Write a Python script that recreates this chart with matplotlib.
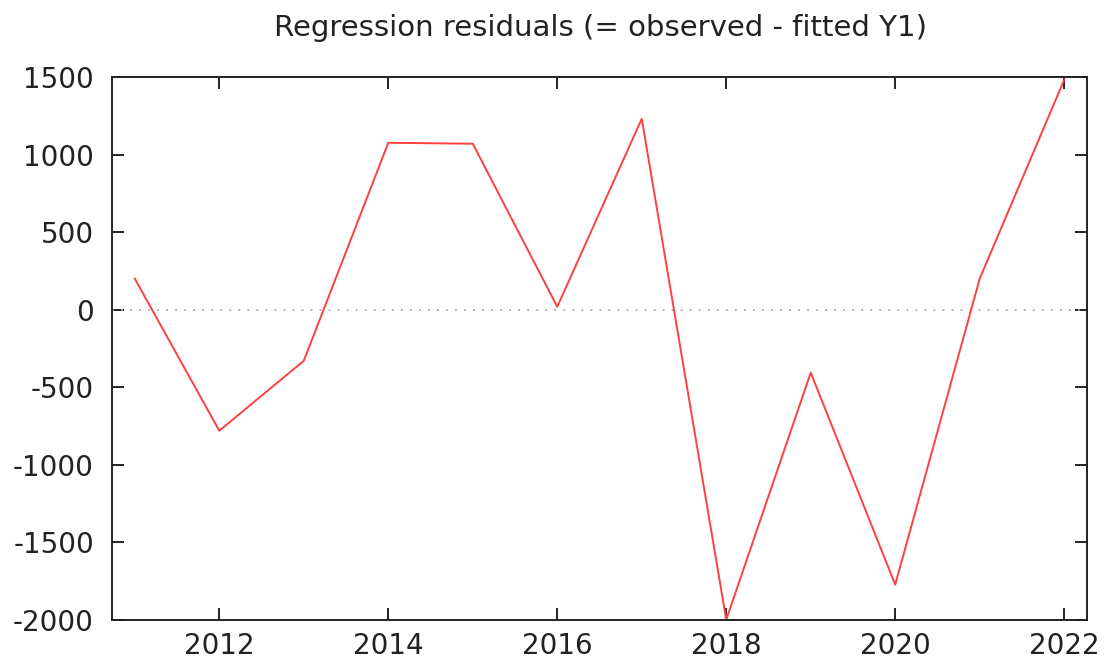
import matplotlib
matplotlib.use("Agg")
import matplotlib.pyplot as plt

years = [2011, 2012, 2013, 2014, 2015, 2016, 2017, 2018, 2019, 2020, 2021, 2022]
residuals = [200, -780, -329, 1076, 1070, 19, 1231, -1998, -406, -1772, 200, 1482]

xticks = [2012, 2014, 2016, 2018, 2020, 2022]
yticks = [-2000, -1500, -1000, -500, 0, 500, 1000, 1500]

fig = plt.figure(figsize=(11.13, 6.63), dpi=100)
ax = fig.add_axes([112/1113, 1 - 620/663, (1087-112)/1113, (620-77)/663])

ax.axhline(0, color="#aaaaaa", linestyle=(0, (1, 4)), linewidth=1.3)
ax.plot(years, residuals, color="#ff4040", linewidth=1.4)

ax.set_xlim(2010.73, 2022.27)
ax.set_ylim(-2000, 1500)
ax.set_xticks(xticks)
ax.set_yticks(yticks)
ax.set_xticklabels([str(t) for t in xticks])
ax.set_yticklabels([str(t) for t in yticks])
ax.tick_params(direction="in", length=8.5, width=1.4, top=True, right=True,
               labelsize=20, colors="#222222")
ax.tick_params(axis="y", pad=13)
ax.tick_params(axis="x", pad=9)
for s in ax.spines.values():
    s.set_linewidth(1.4)
    s.set_color("#222222")

# title centred over the plot area, not the figure
fig.text(600/1113, 1 - 28/663, "Regression residuals (= observed - fitted Y1)",
         ha="center", va="center", fontsize=21, color="#222222")

fig.savefig("out.png", dpi=100)
